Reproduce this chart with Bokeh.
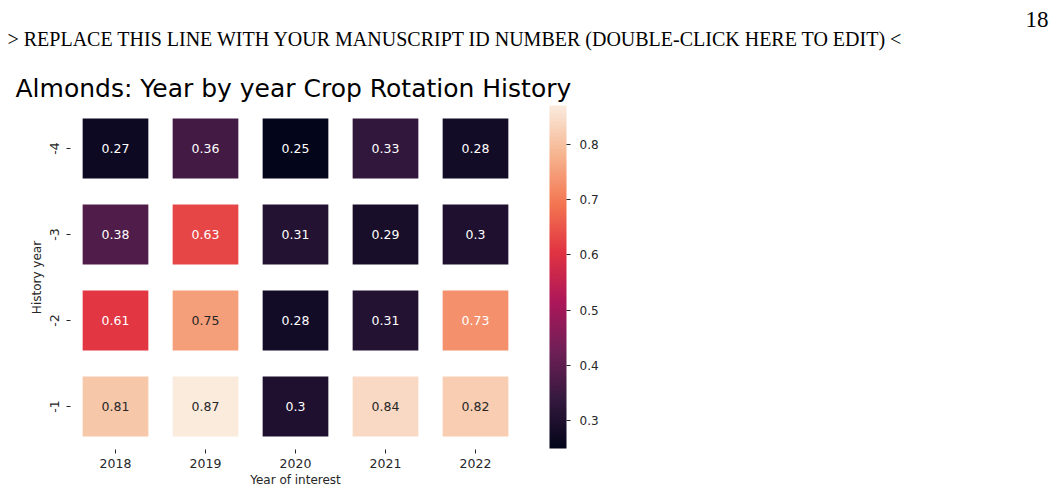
from bokeh.plotting import figure
from bokeh.models import (LinearColorMapper, ColorBar, FixedTicker, Title,
                          FactorRange, ColumnDataSource)
from bokeh.core.properties import value
from bokeh.embed import file_html
from bokeh.resources import INLINE

years = ["2018", "2019", "2020", "2021", "2022"]
history = ["-1", "-2", "-3", "-4"]  # bottom to top
vals_m4 = [0.27, 0.36, 0.25, 0.33, 0.28]
vals_m3 = [0.38, 0.63, 0.31, 0.29, 0.30]
vals_m2 = [0.61, 0.75, 0.28, 0.31, 0.73]
vals_m1 = [0.81, 0.87, 0.30, 0.84, 0.82]
cbar_ticks = [0.3, 0.4, 0.5, 0.6, 0.7, 0.8]

rows = {"-4": vals_m4, "-3": vals_m3, "-2": vals_m2, "-1": vals_m1}

# rocket-like colormap
anchors = ["#03051a", "#35193e", "#701f57", "#ad1759", "#e13342",
           "#f37651", "#f6b48f", "#faebdd"]


def hex2rgb(h):
    h = h.lstrip("#")
    return tuple(int(h[i:i + 2], 16) for i in (0, 2, 4))


anc = [hex2rgb(a) for a in anchors]
palette = []
N = 256
for i in range(N):
    t = i / (N - 1) * (len(anc) - 1)
    k = min(int(t), len(anc) - 2)
    f = t - k
    c = tuple(round(anc[k][j] + (anc[k + 1][j] - anc[k][j]) * f) for j in range(3))
    palette.append("#%02x%02x%02x" % c)

all_vals = vals_m4 + vals_m3 + vals_m2 + vals_m1
lo, hi = min(all_vals), max(all_vals)
mapper = LinearColorMapper(palette=palette, low=lo, high=hi)


def lum(hexc):
    r, g, b = [x / 255 for x in hex2rgb(hexc)]
    def lin(c):
        return c / 12.92 if c <= 0.03928 else ((c + 0.055) / 1.055) ** 2.4
    return 0.2126 * lin(r) + 0.7152 * lin(g) + 0.0722 * lin(b)


xs, ys, vs, labels, tcol = [], [], [], [], []
for h, vlist in rows.items():
    for y, v in zip(years, vlist):
        xs.append(y)
        ys.append(h)
        vs.append(v)
        labels.append(f"{v:.2g}")
        idx = int(round((v - lo) / (hi - lo) * (N - 1)))
        tcol.append("#262626" if lum(palette[idx]) > 0.408 else "#ffffff")

src = ColumnDataSource(dict(year=xs, hist=ys, val=vs, label=labels, tcol=tcol))

p = figure(width=1049, height=491, x_range=FactorRange(*years),
           y_range=FactorRange(*history), output_backend="svg",
           toolbar_location=None, min_border_left=70, min_border_right=529,
           min_border_top=105, min_border_bottom=42)
p.x_range.range_padding = 0
p.y_range.range_padding = 0
p.outline_line_color = None
p.xgrid.grid_line_color = None
p.ygrid.grid_line_color = None
p.background_fill_color = "white"
p.border_fill_color = "white"

p.rect(x="year", y="hist", width=0.73, height=0.70, source=src,
       fill_color={"field": "val", "transform": mapper}, line_color=None)
p.text(x="year", y="hist", text="label", text_color="tcol", source=src,
       text_align="center", text_baseline="middle",
       text_font=value("DejaVu Sans"), text_font_size="12.5px")

for ax in (p.xaxis[0], p.yaxis[0]):
    ax.axis_line_color = None
    ax.major_tick_in = 0
    ax.major_tick_out = 4
    ax.major_tick_line_color = "#262626"
    ax.minor_tick_line_color = None
    ax.major_label_text_font = "DejaVu Sans"
    ax.major_label_text_font_size = "12.5px"
    ax.major_label_text_color = "#262626"
    ax.axis_label_text_font = "DejaVu Sans"
    ax.axis_label_text_font_size = "12px"
    ax.axis_label_text_font_style = "normal"
    ax.axis_label_text_color = "#262626"

p.xaxis.axis_label = "Year of interest"
p.xaxis.axis_label_standoff = 2
p.xaxis.major_label_standoff = 5
p.yaxis.axis_label = "History year"
p.yaxis.major_label_orientation = "vertical"
p.yaxis.axis_label_standoff = 3
p.yaxis.major_label_standoff = 8

cb = ColorBar(color_mapper=mapper, width=17, height=343,
              ticker=FixedTicker(ticks=cbar_ticks), major_tick_out=4,
              major_tick_in=0, major_tick_line_color="#262626",
              bar_line_color=None, major_label_text_font_size="12px",
              major_label_text_font="DejaVu Sans",
              major_label_text_color="#262626", label_standoff=9,
              padding=0, margin=0, location=(29, 1),
              background_fill_color=None, border_line_color=None)
p.add_layout(cb, "right")

# Titles stacked above the frame (first added = nearest the frame)
FL = 70
p.add_layout(Title(text="Almonds: Year by year Crop Rotation History",
                   align="left", offset=15 - FL, standoff=5,
                   vertical_align="bottom",
                   text_font="DejaVu Sans", text_font_size="25px",
                   text_font_style="normal", text_color="black"), "above")
p.add_layout(Title(text="> REPLACE THIS LINE WITH YOUR MANUSCRIPT ID NUMBER (DOUBLE-CLICK HERE TO EDIT) <",
                   align="left", offset=7 - FL, standoff=39,
                   vertical_align="bottom",
                   text_font="Liberation Serif", text_font_size="20px",
                   text_font_style="normal", text_color="black"), "above")
p.add_layout(Title(text="18", align="left", offset=1025 - FL, standoff=-41,
                   vertical_align="bottom",
                   text_font="Liberation Serif", text_font_size="23px",
                   text_font_style="normal", text_color="black"), "above")

open("out.html", "w").write(file_html(p, INLINE))
